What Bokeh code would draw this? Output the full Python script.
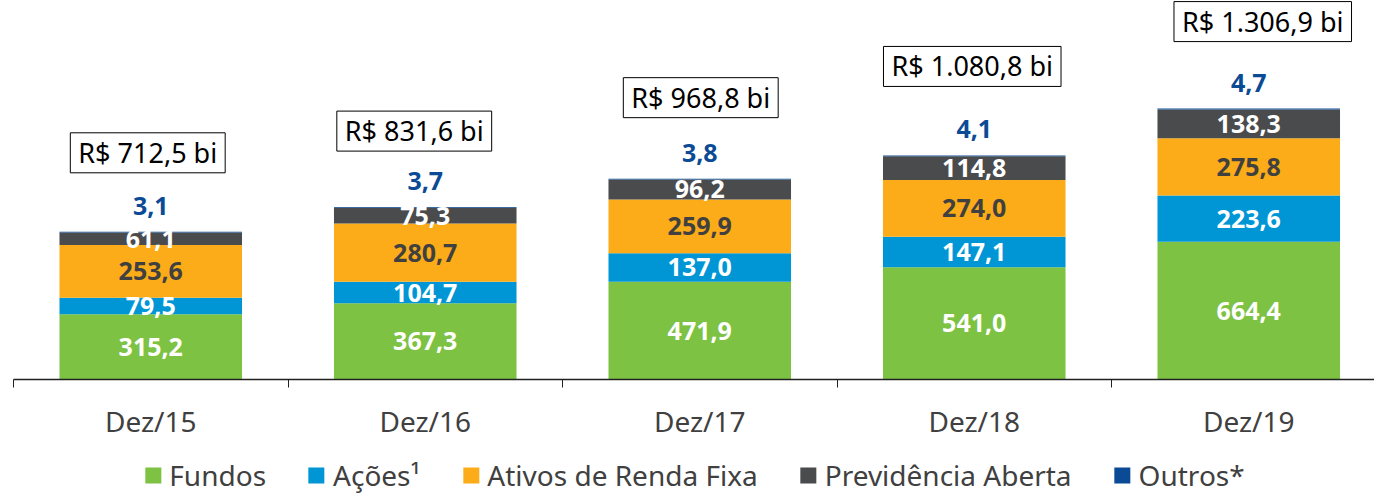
from bokeh.plotting import figure
from bokeh.layouts import column
from bokeh.models import (ColumnDataSource, Range1d, FixedTicker, Legend, LegendItem)
from bokeh.core.properties import value
from bokeh.embed import file_html
from bokeh.resources import INLINE

categories = ["Dez/15", "Dez/16", "Dez/17", "Dez/18", "Dez/19"]
fundos = [315.2, 367.3, 471.9, 541.0, 664.4]
acoes = [79.5, 104.7, 137.0, 147.1, 223.6]
renda_fixa = [253.6, 280.7, 259.9, 274.0, 275.8]
previdencia = [61.1, 75.3, 96.2, 114.8, 138.3]
outros = [3.1, 3.7, 3.8, 4.1, 4.7]
totais = [712.5, 831.6, 968.8, 1080.8, 1306.9]

series = ["Fundos", "Ações¹", "Ativos de Renda Fixa", "Previdência Aberta", "Outros*"]
keys = ["fundos", "acoes", "renda", "prev", "outros"]
colors = ["#7DC242", "#0096D6", "#FBAC18", "#4A4B4D", "#0B4A94"]
label_colors = ["white", "white", "#404040", "white", "#0B4A94"]
# screen-pixel nudges of the total boxes (style only)
box_dx = [-3, -11, 1, -2, 14]
box_dy = [-79, -76, -81, -89, -87]

def br(v):
    s = f"{v:,.1f}"
    return s.replace(",", "X").replace(".", ",").replace("X", ".")

FONT = "Noto Sans"
x = list(range(len(categories)))
src = ColumnDataSource(dict(x=x, fundos=fundos, acoes=acoes, renda=renda_fixa,
                            prev=previdencia, outros=outros, total=totais))

SCALE = 0.2073  # px per unit
W = 1374
LEFT = 13
FRAME_H = 379
BOTTOM = 76
FRAME_W = W - LEFT
p = figure(width=W, height=FRAME_H + BOTTOM, output_backend="svg", toolbar_location=None,
           x_range=Range1d(-0.5, -0.5 + FRAME_W / 274.5), y_range=Range1d(0, FRAME_H / SCALE),
           min_border_left=LEFT, min_border_right=0, min_border_top=0,
           min_border_bottom=BOTTOM)
p.outline_line_color = None
p.grid.visible = False
p.yaxis.visible = False

rends = p.vbar_stack(keys, x="x", width=0.665, color=colors, line_color=None, source=src)

# segment labels
base = [0.0] * len(x)
for vals, col in zip([fundos, acoes, renda_fixa, previdencia], label_colors[:4]):
    mids = [b + v / 2 for b, v in zip(base, vals)]
    s = ColumnDataSource(dict(x=x, y=mids, t=[br(v) for v in vals]))
    p.text("x", "y", text="t", source=s, text_align="center", text_baseline="middle",
           text_color=col, text_font=value(FONT), text_font_style="bold",
           text_font_size="25px")
    base = [b + v for b, v in zip(base, vals)]

# outros labels above the bar
s_out = ColumnDataSource(dict(x=x, y=totais, t=[br(v) for v in outros]))
p.text("x", "y", text="t", source=s_out, text_align="center", text_baseline="middle",
       y_offset=-26, text_color=label_colors[4], text_font=value(FONT),
       text_font_style="bold", text_font_size="25px")

# total boxes
s_tot = ColumnDataSource(dict(x=x, y=totais, t=["R$ " + br(v) + " bi" for v in totais],
                              dx=box_dx, dy=box_dy))
p.text("x", "y", text="t", source=s_tot, text_align="center", text_baseline="middle",
       x_offset="dx", y_offset="dy", text_color="black", text_font=value(FONT),
       text_font_size="27px", background_fill_color="white", border_line_color="black",
       border_line_width=1, padding=[8, 8, 1, 2])

ax = p.xaxis[0]
ax.ticker = FixedTicker(ticks=x, minor_ticks=[-0.5, 0.5, 1.5, 2.5, 3.5, 4.5])
ax.major_label_overrides = {i: c for i, c in zip(x, categories)}
ax.major_tick_line_color = None
ax.minor_tick_out = 8
ax.minor_tick_in = 0
ax.minor_tick_line_color = "#202020"
ax.axis_line_color = "#202020"
ax.axis_line_width = 1.5
ax.major_label_standoff = 14
ax.major_label_text_font = FONT
ax.major_label_text_font_size = "28px"
ax.major_label_text_color = "#404040"

# legend strip
p2 = figure(width=W, height=40, output_backend="svg", toolbar_location=None,
            x_axis_location=None, y_axis_location=None,
            x_range=Range1d(0, 1), y_range=Range1d(0, 1),
            min_border_left=0, min_border_right=0, min_border_top=0, min_border_bottom=0)
p2.outline_line_color = None
p2.grid.visible = False
swatches = [p2.vbar(x=[10], top=[1], width=0.1, color=c, line_color=None) for c in colors]
legend = Legend(items=[LegendItem(label=s, renderers=[r]) for s, r in zip(series, swatches)],
                orientation="horizontal", location="center", border_line_color=None,
                background_fill_alpha=0, glyph_width=20, glyph_height=20,
                label_text_font=FONT, label_text_font_size="28px",
                label_text_color="#404040", spacing=40, label_standoff=7,
                padding=0, margin=0)
p2.add_layout(legend)

layout = column(p, p2, spacing=0)
open("out.html", "w").write(file_html(layout, INLINE))
